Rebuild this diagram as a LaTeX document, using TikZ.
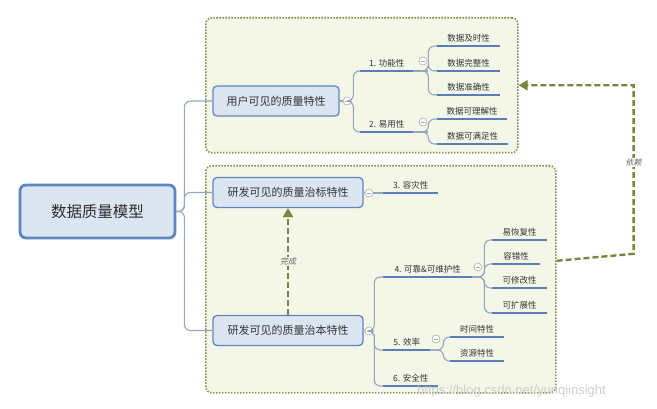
\documentclass[tikz,border=0pt]{standalone}
\usepackage{fontspec}
\setmainfont{Noto Sans CJK SC}
\newfontfamily\slcjk[FakeSlant=0.2]{Noto Sans CJK SC}
\newfontfamily\wmfont{Liberation Sans}
\usetikzlibrary{arrows.meta}
\definecolor{boxfill}{HTML}{F4F7E8}
\definecolor{boxline}{HTML}{7F8C4A}
\definecolor{nodefill}{HTML}{DCE6F2}
\definecolor{nodeline}{HTML}{5F87BF}
\definecolor{ulblue}{HTML}{5B7FB5}
\definecolor{connc}{HTML}{94A6BE}
\definecolor{txt}{HTML}{333333}
\definecolor{depc}{HTML}{77873F}
\begin{document}
\begin{tikzpicture}[x=1pt,y=-1pt,
  grpbox/.style={draw=boxline, fill=boxfill, line width=1.6pt, dash pattern=on 1.4pt off 1.6pt, rounded corners=6pt, inner sep=0pt},
  mainnode/.style={draw=nodeline, fill=nodefill, line width=2.8pt, rounded corners=6pt, minimum width=155pt, minimum height=53pt, inner sep=0pt, font=\fontsize{15.5}{17}\selectfont, text=txt!90!black},
  topic/.style={draw=nodeline, fill=nodefill, line width=1.3pt, rounded corners=4pt, minimum height=30pt, inner sep=0pt, font=\fontsize{11}{13}\selectfont, text=txt},
  sub/.style={anchor=south west, inner xsep=0pt, inner ysep=3.5pt, font=\fontsize{8.5}{10}\selectfont, text=txt},
  ul/.style={draw=ulblue, line width=2.4pt},
  conn/.style={draw=connc, line width=1.1pt, rounded corners=6pt},
  fold/.style={circle, draw=gray!65, fill=white, line width=0.6pt, minimum size=8pt, inner sep=0pt,
    path picture={\draw[gray!70, line width=0.6pt] ([xshift=-2pt]path picture bounding box.center) -- ([xshift=2pt]path picture bounding box.center);}},
  dep/.style={draw=depc, line width=2.4pt, dash pattern=on 6pt off 3pt, -{Triangle[length=9pt,width=10pt]}},
  deplab/.style={inner sep=1pt, font=\slcjk\fontsize{8}{9}\selectfont, text=gray!80!black}
]
\useasboundingbox (0,0) rectangle (657,409);

% group boxes
\node[grpbox, anchor=north west, minimum width=312pt, minimum height=135pt] (gtop) at (205,17) {};
\node[grpbox, anchor=north west, minimum width=350pt, minimum height=227pt] (gbot) at (205,165) {};

% root and topics
\node[mainnode] (root) at (97.5,211.5) {数据质量模型};
\node[topic, minimum width=126pt] (u1) at (276,101) {用户可见的质量特性};
\node[topic, minimum width=150pt] (n2) at (288,192.5) {研发可见的质量治标特性};
\node[topic, minimum width=150pt] (n3) at (288,330.5) {研发可见的质量治本特性};

\draw[conn] (root.east) -- ++(8,0) |- (u1.west);
\draw[conn] (root.east) -- ++(8,0) |- (n2.west);
\draw[conn] (root.east) -- ++(8,0) |- (n3.west);

% fold markers next to topics
\node[fold] (cu1) at (347,101) {};
\node[fold] (cn2) at (369,193) {};
\node[fold] (cn3) at (369,331) {};
\draw[conn] (u1.east) -- (cu1.west);
\draw[conn] (n2.east) -- (cn2.west);
\draw[conn] (n3.east) -- (cn3.west);

% ---- top box subtopics
\node[sub, minimum width=53pt] (f1) at (360,71) {1. 功能性};
\node[sub, minimum width=53pt] (f2) at (360,132) {2. 易用性};
\node[fold] (cf1) at (423,61) {};
\node[fold] (cf2) at (423,122) {};
\draw[conn] (cu1.east) -- ++(2,0) |- (f1.south west);
\draw[conn] (cu1.east) -- ++(2,0) |- (f2.south west);

\node[sub, minimum width=63pt] (l1) at (437,46) {数据及时性};
\node[sub, minimum width=63pt] (l2) at (437,71) {数据完整性};
\node[sub, minimum width=63pt] (l3) at (437,95) {数据准确性};
\node[sub, minimum width=70pt] (l4) at (437,119) {数据可理解性};
\node[sub, minimum width=71pt] (l5) at (437,144) {数据可满足性};
\foreach \p in {f1,f2} \draw[conn] (\p.south east) -- ++(15,0);
\foreach \l in {l1,l2,l3} \draw[conn] (f1.south east) -- ++(15,0) |- (\l.south west);
\foreach \l in {l4,l5} \draw[conn] (f2.south east) -- ++(15,0) |- (\l.south west);

% ---- bottom box subtopics
\node[sub, minimum width=55pt] (s3) at (383,193) {3. 容灾性};
\draw[conn] (cn2.east) -- (s3.south west);

\node[sub, minimum width=89pt] (s4) at (383,277) {4. 可靠\&可维护性};
\node[sub, minimum width=47pt] (s5) at (383,350) {5. 效率};
\node[sub, minimum width=55pt] (s6) at (383,386) {6. 安全性};
\foreach \s in {s4,s5,s6} \draw[conn] (cn3.east) -- ++(1,0) |- (\s.south west);
\node[fold] (cs4) at (478,267) {};
\node[fold] (cs5) at (436,339) {};

\node[sub, minimum width=55pt] (r1) at (492,240) {易恢复性};
\node[sub, minimum width=48pt] (r2) at (492,264) {容错性};
\node[sub, minimum width=55pt] (r3) at (492,288) {可修改性};
\node[sub, minimum width=55pt] (r4) at (492,313) {可扩展性};
\foreach \r in {r1,r2,r3,r4} \draw[conn] (s4.south east) -- ++(12,0) |- (\r.south west);

\node[sub, minimum width=54pt] (t1) at (450,337) {时间特性};
\node[sub, minimum width=54pt] (t2) at (450,361) {资源特性};
\foreach \t in {t1,t2} \draw[conn] (s5.south east) -- ++(13,0) |- (\t.south west);

% underlines
\foreach \n in {f1,f2,l1,l2,l3,l4,l5,s3,s4,s5,s6,r1,r2,r3,r4,t1,t2}
  \draw[ul] (\n.south west) -- (\n.south east);

% dependency arrows
\draw[dep] (n3.north) -- node[deplab, fill=boxfill] {完成} (n2.south);
\draw[dep] ([yshift=18.5pt]gbot.east) -- ++(77,-7) |- node[deplab, fill=white, pos=0.27] {依赖} (gtop.east);

% watermark
\node[anchor=west, inner sep=0pt, font=\wmfont\fontsize{13}{14}\selectfont, text=gray!45, opacity=0.85] (wm) at (417,391) {https://blog.csdn.net/yunqiinsight};
\end{tikzpicture}
\end{document}
